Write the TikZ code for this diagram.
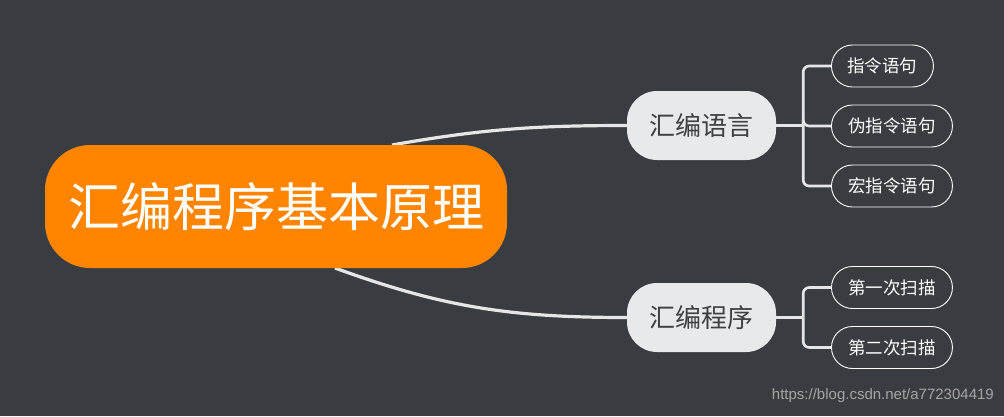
\documentclass[tikz,border=0pt]{standalone}
\usepackage{fontspec}
\setmainfont{Noto Sans CJK SC}
\newfontfamily\wmfont{Liberation Sans}
\usetikzlibrary{positioning}
\definecolor{bgcol}{RGB}{57,60,65}
\definecolor{rootcol}{RGB}{255,133,0}
\definecolor{branchcol}{RGB}{232,233,235}
\definecolor{branchtext}{RGB}{64,64,64}
\definecolor{linkcol}{RGB}{230,230,230}
\definecolor{wmcol}{RGB}{165,165,165}

\begin{document}
\begin{tikzpicture}[x=1pt,y=-1pt,
  root node/.style={fill=rootcol,text=white,rounded corners=45pt,minimum width=462pt,minimum height=123pt,inner sep=0pt,font=\fontsize{52}{52}\selectfont},
  branch node/.style={fill=branchcol,text=branchtext,rounded corners=30pt,minimum width=149pt,minimum height=69pt,inner sep=0pt,font=\fontsize{26}{26}\selectfont},
  leaf node/.style={draw=white,line width=0.9pt,text=white,rounded corners=21pt,minimum height=42pt,inner sep=0pt,anchor=west,font=\fontsize{17.5}{17.5}\selectfont},
  link/.style={draw=linkcol,line width=3.2pt},
  twig/.style={draw=linkcol,line width=2.6pt,rounded corners=6pt}]

  \fill[bgcol] (0,0) rectangle (1004,416);

  % curved links from the root, drawn first so the nodes cover their ends
  \coordinate (r1) at (392,145);
  \coordinate (r2) at (335,268);
  \coordinate (b1w) at (627,125.5);
  \coordinate (b2w) at (627,317.5);
  \draw[link] (r1) to[out=10,in=180] (b1w);
  \draw[link] (r2) to[out=-20,in=180] (b2w);

  \node[root node] (R) at (276,206.5) {汇编程序基本原理};
  \node[branch node] (A) at (701.5,125.5) {汇编语言};
  \node[branch node] (P) at (701.5,317.5) {汇编程序};

  \node[leaf node,minimum width=102pt] (A1) at (831,66) {指令语句};
  \node[leaf node,minimum width=121pt] (A2) at (831,126) {伪指令语句};
  \node[leaf node,minimum width=121pt] (A3) at (831,186) {宏指令语句};
  \node[leaf node,minimum width=121pt] (P1) at (831,287.5) {第一次扫描};
  \node[leaf node,minimum width=121pt] (P2) at (831,347.5) {第二次扫描};

  % forks
  \coordinate[right=27pt of A.east] (FA);
  \coordinate[right=27pt of P.east] (FP);
  \draw[link,line width=2.6pt] (A.east) -- (FA);
  \draw[link,line width=2.6pt] (P.east) -- (FP);
  \draw[twig] (FA) |- (A1.west);
  \draw[twig] (FA) -- (FA |- A2.west) -- (A2.west);
  \draw[twig] (FA) |- (A3.west);
  \draw[twig] (FP) |- (P1.west);
  \draw[twig] (FP) |- (P2.west);

  \node[anchor=east,text=wmcol,inner sep=0pt,font=\wmfont\fontsize{15}{15}\selectfont] (wm) at (994,396) {https://blog.csdn.net/a772304419};
\end{tikzpicture}
\end{document}
